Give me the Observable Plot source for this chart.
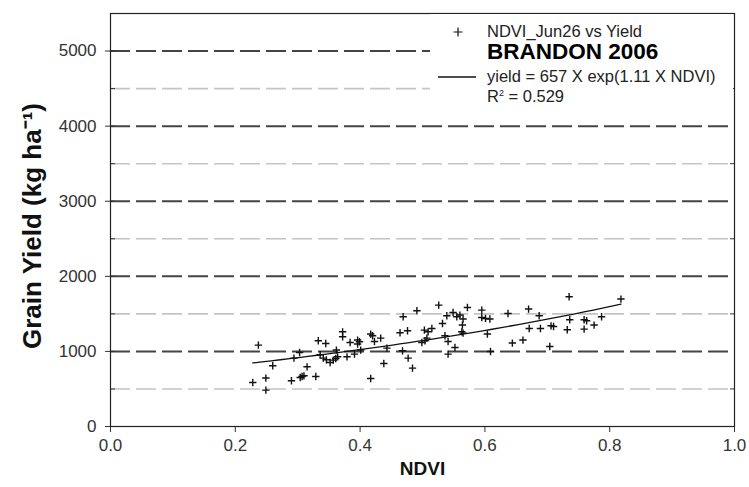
<!DOCTYPE html>
<html><head><meta charset="utf-8">
<script src="https://cdn.jsdelivr.net/npm/d3@7"></script>
<script src="https://cdn.jsdelivr.net/npm/@observablehq/plot@0.6"></script>
<style>
body{margin:0;background:#fff;}
#chart{position:relative;width:749px;height:487px;}
#chart svg{font-family:"Liberation Sans",Arial,sans-serif;}
#legend{position:absolute;left:430px;top:14px;width:303px;height:97px;background:#fff;}
#legend svg{display:block;}
</style></head><body><div id="chart"><div id="legend"></div></div>
<script>
// NDVI (Jun 26) vs grain yield (kg/ha), Brandon 2006
const ndvi = [0.228,0.237,0.249,0.249,0.260,0.290,0.294,0.303,0.304,0.307,0.310,0.315,0.329,0.333,0.345,0.336,0.341,0.346,0.352,0.357,0.361,0.364,0.362,0.372,0.372,0.384,0.379,0.391,0.396,0.399,0.396,0.401,0.417,0.420,0.423,0.433,0.417,0.438,0.443,0.464,0.476,0.469,0.491,0.468,0.477,0.484,0.526,0.539,0.549,0.555,0.560,0.565,0.572,0.532,0.503,0.509,0.515,0.499,0.504,0.507,0.536,0.541,0.552,0.541,0.564,0.563,0.565,0.595,0.595,0.601,0.608,0.604,0.609,0.637,0.644,0.661,0.670,0.687,0.671,0.689,0.706,0.710,0.704,0.735,0.736,0.732,0.759,0.763,0.759,0.775,0.787,0.818];
const yieldKg = [586,1084,645,485,809,609,911,986,653,666,675,795,666,1142,1106,955,911,888,852,884,906,928,1018,1261,1195,1119,928,964,1151,1128,1098,1018,1231,1208,1132,1177,639,839,1044,1248,1275,1461,1541,1008,911,778,1617,1475,1518,1461,1484,1431,1585,1372,1284,1261,1305,1119,1142,1177,1208,1132,1052,964,1351,1261,1244,1550,1452,1439,1431,1231,999,1505,1111,1151,1564,1475,1305,1305,1341,1332,1066,1728,1421,1288,1421,1408,1297,1351,1461,1697];
const xTicks = [0, 0.2, 0.4, 0.6, 0.8, 1.0];
const yMajor = [0, 1000, 2000, 3000, 4000, 5000];
const yMinor = [500, 1500, 2500, 3500, 4500];
const fitA = 657, fitB = 1.11;           // yield = 657 X exp(1.11 X NDVI)
const legendSeries = "NDVI_Jun26 vs Yield";
const legendTitle = "BRANDON 2006";
const legendFit = "yield = 657 X exp(1.11 X NDVI)";
const legendR2 = "0.529";
const xLabel = "NDVI";
const yLabel = "Grain Yield (kg ha\u207B\u00B9)";

const points = ndvi.map((x, i) => ({ndvi: x, yield: yieldKg[i]}));
const ext = d3.extent(ndvi);
const fit = d3.range(41).map(i => {
  const x = ext[0] + (ext[1] - ext[0]) * i / 40;
  return {ndvi: x, yield: fitA * Math.exp(fitB * x)};
});
const font = '"Liberation Sans", Arial, sans-serif';

const plot = Plot.plot({
  width: 749, height: 487,
  marginLeft: 110, marginRight: 15, marginTop: 13, marginBottom: 61,
  style: {fontFamily: font, fontSize: "17px", color: "#333", background: "#fff"},
  x: {domain: [0, 1]},
  y: {domain: [0, 5500]},
  marks: [
    Plot.ruleY(yMinor, {stroke: "#c4c4c4", strokeWidth: 1.6, strokeDasharray: "20,6"}),
    Plot.ruleY(yMajor.filter(d => d > 0), {stroke: "#444", strokeWidth: 2, strokeDasharray: "20,6"}),
    Plot.axisX({ticks: xTicks, tickFormat: d3.format(".1f"), tickSize: 6, tickPadding: 6, label: null}),
    Plot.axisY({ticks: yMajor, tickSize: 5, tickPadding: 9, tickFormat: d3.format("d"), label: null}),
    Plot.axisY({ticks: [...yMajor, ...yMinor], tickSize: -5, tickFormat: () => "", label: null}),
    Plot.axisY({anchor: "right", ticks: yMinor, tickSize: -5, tickFormat: () => "", label: null}),
    Plot.frame({stroke: "#222", strokeWidth: 1.2}),
    Plot.line(fit, {x: "ndvi", y: "yield", stroke: "#111", strokeWidth: 1.3}),
    Plot.dot(points, {x: "ndvi", y: "yield", symbol: "plus", r: 2.5, stroke: "#111", strokeWidth: 1.4}),
    Plot.text([xLabel], {text: d => d, frameAnchor: "bottom", dy: 48, fontSize: 19, fontWeight: "bold", fill: "#111"}),
    Plot.text([yLabel], {text: d => d, frameAnchor: "left", textAnchor: "middle", dx: -78, dy: 6, rotate: -90, fontSize: 26, fontWeight: "bold", fill: "#111"})
  ]
});
document.getElementById("chart").appendChild(plot);

// Legend box (inside plot, top right), drawn over the grid
const lg = d3.select("#legend").append("svg").attr("width", 303).attr("height", 97)
  .attr("font-family", font).attr("text-anchor", "start");
lg.append("path").attr("d", "M23.5,18h9M28,13.5v9").attr("stroke", "#111").attr("stroke-width", 1.2);
lg.append("text").attr("x", 57).attr("y", 23).attr("font-size", 16.5).attr("fill", "#222").text(legendSeries);
lg.append("text").attr("x", 57).attr("y", 45).attr("font-size", 22.5).attr("font-weight", "bold").attr("fill", "#000").text(legendTitle);
lg.append("line").attr("x1", 8).attr("x2", 46).attr("y1", 63).attr("y2", 63).attr("stroke", "#111").attr("stroke-width", 1.3);
lg.append("text").attr("x", 57).attr("y", 68).attr("font-size", 16.5).attr("fill", "#222").text(legendFit);
const r2 = lg.append("text").attr("x", 57).attr("y", 88).attr("font-size", 16.5).attr("fill", "#222");
r2.append("tspan").text("R");
r2.append("tspan").attr("font-size", 9).attr("dy", -6).text("2");
r2.append("tspan").attr("dy", 6).text(" = " + legendR2);
</script></body></html>
